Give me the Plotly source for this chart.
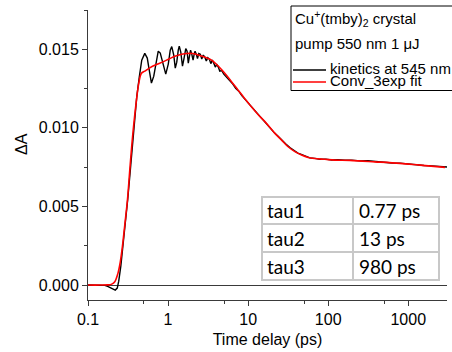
import plotly.graph_objects as go

# ---------------- data ----------------
series_names = ["kinetics at 545 nm", "Conv_3exp fit"]

t_kin = [0.1, 0.14, 0.162, 0.176, 0.192, 0.207, 0.219, 0.232, 0.242, 0.257, 0.279, 0.313,
         0.342, 0.373, 0.406, 0.437, 0.469, 0.512, 0.550, 0.582, 0.620, 0.663, 0.712, 0.754,
         0.799, 0.859, 0.936, 1.006, 1.065, 1.112, 1.178, 1.230, 1.284, 1.341, 1.380, 1.442,
         1.514, 1.585, 1.664, 1.728, 1.789, 1.851, 1.910, 1.977, 2.053, 2.113, 2.175, 2.252,
         2.331, 2.421, 2.527, 2.636, 2.754, 2.877, 3.003, 3.133, 3.273, 3.420, 3.569, 3.724,
         3.890, 4.064, 4.242, 4.426, 4.688, 4.966, 5.42, 5.90, 6.44, 7.02, 7.65, 8.34, 9.09,
         9.91, 10.8, 11.8, 12.9, 14.0, 15.3, 16.6, 18.7, 20.9, 23.5, 26.4, 29.6, 33.2, 37.2,
         41.8, 46.9, 52.6, 59.0, 68.2, 78.7, 93.5, 111, 132, 162, 198, 249, 313, 394, 497,
         625, 788, 991, 1247, 1570, 1977, 2489, 3048]
dA_kin = [0.0, 0.0, -0.00002, -0.00008, -0.00019, -0.00029, -0.00032, -0.00019, 0.00025,
          0.00121, 0.00286, 0.00541, 0.00763, 0.00999, 0.01196, 0.01323, 0.01431, 0.01474,
          0.01444, 0.01368, 0.01285, 0.01329, 0.01431, 0.01488, 0.01476, 0.01406, 0.01342,
          0.01406, 0.01495, 0.01517, 0.01463, 0.01380, 0.01418, 0.01495, 0.01520, 0.01482,
          0.01393, 0.01444, 0.01504, 0.01488, 0.01412, 0.01457, 0.01495, 0.01469, 0.01431,
          0.01466, 0.01488, 0.01469, 0.01441, 0.01473, 0.01469, 0.01438, 0.01463, 0.01450,
          0.01425, 0.01447, 0.01438, 0.01409, 0.01431, 0.01412, 0.01387, 0.01403, 0.01387,
          0.01361, 0.01364, 0.01342, 0.01323, 0.01298, 0.01279, 0.01250, 0.01234, 0.01205,
          0.01183, 0.01164, 0.01135, 0.01116, 0.01091, 0.01069, 0.01050, 0.01027, 0.01002,
          0.00973, 0.00948, 0.00919, 0.00897, 0.00875, 0.00859, 0.00840, 0.00830, 0.00817,
          0.00809, 0.00806, 0.00800, 0.00801, 0.00796, 0.00798, 0.00794, 0.00795, 0.00790,
          0.00791, 0.00785, 0.00782, 0.00777, 0.00776, 0.00770, 0.00768, 0.00761, 0.00758,
          0.00752, 0.00751]

t_fit = [0.1, 0.140, 0.176, 0.198, 0.216, 0.237, 0.253, 0.269, 0.288, 0.311, 0.335, 0.362,
         0.403, 0.431, 0.465, 0.512, 0.590, 0.716, 0.866, 1.05, 1.27, 1.70, 2.04, 2.49, 3.49,
         4.18, 5.11, 6.20, 7.50, 9.09, 11.0, 13.3, 16.2, 21.6, 26.2, 31.6, 38.4, 46.5, 56.2,
         68.2, 91.0, 121, 187, 384, 788, 1400, 2877]
dA_fit = [0.0, 0.0, 0.00001, 0.00006, 0.00021, 0.00076, 0.00146, 0.00244, 0.00382, 0.00541,
          0.00752, 0.00954, 0.01177, 0.01285, 0.01347, 0.01361, 0.01382, 0.01403, 0.01420,
          0.01441, 0.01459, 0.01473, 0.01473, 0.01460, 0.01431, 0.01396, 0.01347, 0.01294,
          0.01240, 0.01186, 0.01134, 0.01085, 0.01040, 0.00965, 0.00922, 0.00880, 0.00849,
          0.00827, 0.00812, 0.00805, 0.00800, 0.00795, 0.00793, 0.00784, 0.00774, 0.00763,
          0.00749]

x_tickvals = [0.1, 1, 10, 100, 1000]
x_ticktext = ["0.1", "1", "10", "100", "1000"]
x_minorvals = [0.5, 5, 50, 500]
y_tickvals = [0.0, 0.005, 0.010, 0.015]
y_ticktext = ["0.000", "0.005", "0.010", "0.015"]

tau_names = ["tau1", "tau2", "tau3"]
tau_values = ["0.77 ps", "13 ps", "980 ps"]

legend_title1 = "Cu<sup>+</sup>(tmby)<sub>2</sub> crystal"
legend_title2 = "pump 550 nm 1 μJ"

# ---------------- layout geometry (pixels) ----------------
W, H = 452, 352
L, R, T, B = 88, 447, 10, 300


def px(x):
    return (x - L) / (R - L)


def py(y):
    return (B - y) / (B - T)


FONT = "Arial, Liberation Sans, sans-serif"
TFONT = "Lato, Open Sans, sans-serif"

fig = go.Figure()
fig.add_trace(go.Scatter(x=t_kin, y=dA_kin, mode="lines", name=series_names[0],
                         line=dict(color="black", width=1.4), showlegend=False))
fig.add_trace(go.Scatter(x=t_fit, y=dA_fit, mode="lines", name=series_names[1],
                         line=dict(color="#ff0000", width=1.6, shape="spline"), showlegend=False))

axis_col = "#3a3a3a"
fig.update_layout(
    width=W, height=H,
    margin=dict(l=L, r=W - R, t=T, b=H - B, pad=0),
    paper_bgcolor="white", plot_bgcolor="white",
    font=dict(family=FONT, size=16, color="black"),
    xaxis=dict(type="log", range=[-1, 3.484], showgrid=False, zeroline=False,
               showline=True, linecolor=axis_col, linewidth=1,
               ticks="outside", ticklen=5, tickwidth=1, tickcolor=axis_col,
               tickmode="array", tickvals=x_tickvals, ticktext=x_ticktext,
               tickfont=dict(size=16),
               minor=dict(tickmode="array", tickvals=x_minorvals, ticks="outside",
                          ticklen=3, tickcolor=axis_col, showgrid=False),
               title=dict(text="Time delay (ps)", font=dict(size=16), standoff=6)),
    yaxis=dict(range=[-0.00095, 0.0175], showgrid=False,
               zeroline=True, zerolinecolor=axis_col, zerolinewidth=1,
               showline=True, linecolor=axis_col, linewidth=1,
               ticks="outside", ticklen=5, tickwidth=1, tickcolor=axis_col,
               tickmode="array", tickvals=y_tickvals, ticktext=y_ticktext,
               tickfont=dict(size=16),
               minor=dict(dtick=0.0025, tick0=0, ticks="outside", ticklen=3,
                          tickcolor=axis_col, showgrid=False)),
)

shapes = []
annotations = []

# y axis title
annotations.append(dict(x=px(21), y=py(144), xref="paper", yref="paper", text="ΔA",
                        textangle=-90, showarrow=False, xanchor="center", yanchor="middle",
                        font=dict(size=16, family=FONT)))

# legend box (right edge runs past the picture, as in the reference)
shapes.append(dict(type="rect", xref="paper", yref="paper", x0=px(291), x1=px(458),
                   y0=py(6), y1=py(90.5), line=dict(color="black", width=1),
                   fillcolor="white", layer="above"))
annotations.append(dict(x=px(293), y=py(18), xref="paper", yref="paper", text=legend_title1,
                        showarrow=False, xanchor="left", yanchor="middle", font=dict(size=15)))
annotations.append(dict(x=px(293), y=py(43), xref="paper", yref="paper", text=legend_title2,
                        showarrow=False, xanchor="left", yanchor="middle", font=dict(size=15)))
for yy, col, name in [(69.5, "black", series_names[0]), (81.5, "#ff0000", series_names[1])]:
    shapes.append(dict(type="line", xref="paper", yref="paper", x0=px(293), x1=px(326),
                       y0=py(yy + 0.5), y1=py(yy + 0.5), line=dict(color=col, width=1.5),
                       layer="above"))
    annotations.append(dict(x=px(328), y=py(yy - 1), xref="paper", yref="paper", text=name,
                            showarrow=False, xanchor="left", yanchor="middle",
                            font=dict(size=15)))

# table
tx = [262, 353, 439]
ty = [197, 224, 252, 280]
tcol = "#c8c8c8"
for x in tx:
    shapes.append(dict(type="line", xref="paper", yref="paper", x0=px(x), x1=px(x),
                       y0=py(ty[0]), y1=py(ty[-1]), line=dict(color=tcol, width=2),
                       layer="above"))
for y in ty:
    shapes.append(dict(type="line", xref="paper", yref="paper", x0=px(tx[0] - 1), x1=px(tx[-1] + 1),
                       y0=py(y), y1=py(y), line=dict(color=tcol, width=2), layer="above"))
for i, (nm, val) in enumerate(zip(tau_names, tau_values)):
    yc = (ty[i] + ty[i + 1]) / 2
    annotations.append(dict(x=px(265), y=py(yc), xref="paper", yref="paper", text=nm,
                            showarrow=False, xanchor="left", yanchor="middle",
                            font=dict(size=19, family=TFONT)))
    annotations.append(dict(x=px(357), y=py(yc), xref="paper", yref="paper", text=val,
                            showarrow=False, xanchor="left", yanchor="middle",
                            font=dict(size=19, family=TFONT)))

fig.update_layout(shapes=shapes, annotations=annotations)
fig.write_html("out.html")
